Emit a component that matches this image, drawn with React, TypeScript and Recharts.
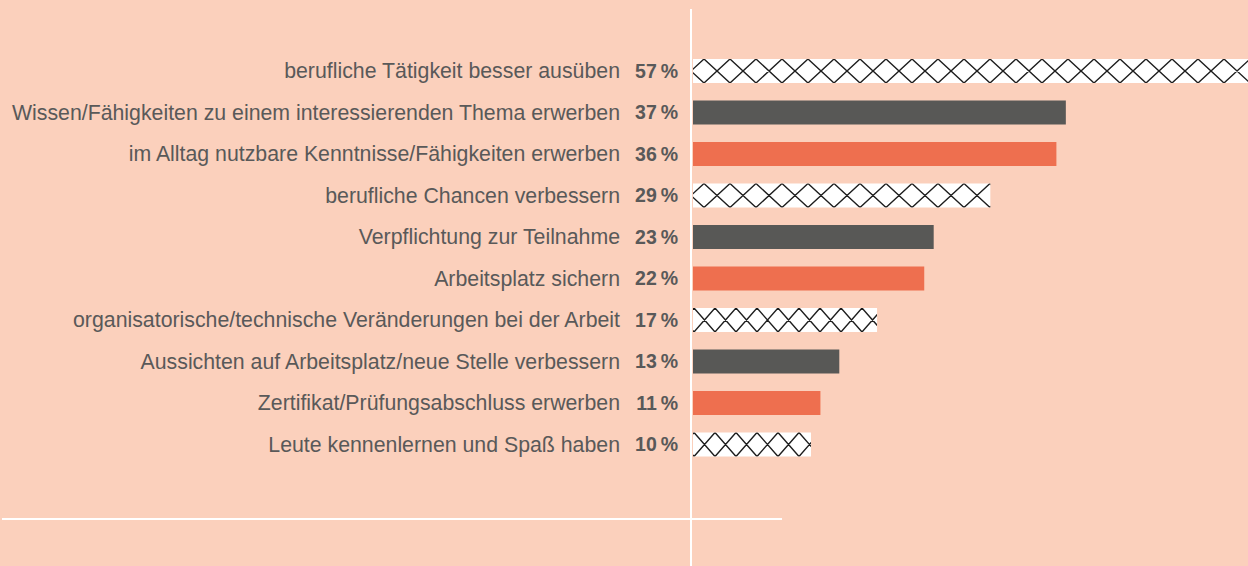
import { BarChart, Bar, XAxis, YAxis, Cell } from "recharts";

const categories = [
  "berufliche Tätigkeit besser ausüben",
  "Wissen/Fähigkeiten zu einem interessierenden Thema erwerben",
  "im Alltag nutzbare Kenntnisse/Fähigkeiten erwerben",
  "berufliche Chancen verbessern",
  "Verpflichtung zur Teilnahme",
  "Arbeitsplatz sichern",
  "organisatorische/technische Veränderungen bei der Arbeit",
  "Aussichten auf Arbeitsplatz/neue Stelle verbessern",
  "Zertifikat/Prüfungsabschluss erwerben",
  "Leute kennenlernen und Spaß haben",
];

const shares = [57, 37, 36, 29, 23, 22, 17, 13, 11, 10];

// hatch = white bar with diamond lattice
const styles = ["hatch", "dark", "orange", "hatch", "dark", "orange", "hatch", "dark", "orange", "hatch"];

const BG = "#FBD0BC";
const TEXT = "#595959";
const colors: Record<string, string> = { dark: "#585856", orange: "#EE6F4F", hatch: "#ffffff" };

const AXIS_MIN = -2.5;
const AXIS_MAX = 56.3;

const data = categories.map((name, i) => ({
  name,
  value: shares[i],
  style: styles[i],
}));

const FONT = "'Liberation Sans', Arial, Helvetica, sans-serif";

const LabelTick = ({ x, y, payload, index }: any) => {
  const v = shares[index];
  return (
    <g>
      <text x={x - 73} y={y} dy="0.35em" textAnchor="end" fill={TEXT} fontSize={21.3} fontFamily={FONT}>
        {payload.value}
      </text>
      <text x={x - 15} y={y} dy="0.35em" textAnchor="end" fill={TEXT} fontSize={19.5} fontWeight="bold" fontFamily={FONT}>
        {v}{"\u2009"}%
      </text>
    </g>
  );
};

const HatchBar = (props: any) => {
  const { x, y, width, height, payload, index } = props;
  if (payload.style !== "hatch") {
    return <rect x={x} y={y} width={width} height={height} fill={colors[payload.style]} />;
  }
  // lattice spacing differs a bit between rows in the original
  const period = index < 5 ? 26 : 21;
  const offset = index < 5 ? 11 : 1;
  let d = "";
  for (let tx = x + offset - period * 2; tx < x + width + period; tx += period) {
    d += `M${tx},${y}L${tx + period},${y + height}`;
    d += `M${tx},${y}L${tx - period},${y + height}`;
  }
  const clipId = `hatch-clip-${index}`;
  return (
    <g>
      <defs>
        <clipPath id={clipId}>
          <rect x={x} y={y} width={width} height={height} />
        </clipPath>
      </defs>
      <rect x={x} y={y} width={width} height={height} fill="#fff" />
      <path d={d} stroke="#1e1e1e" strokeWidth={1.4} fill="none" clipPath={`url(#${clipId})`} />
    </g>
  );
};

export default function App() {
  return (
    <div
      style={{
        position: "absolute",
        left: 0,
        top: 0,
        width: 1248,
        height: 566,
        background: BG,
        overflow: "hidden",
      }}
    >
      <BarChart
        width={1248}
        height={566}
        data={data}
        layout="vertical"
        margin={{ top: 50, right: 0, bottom: 101, left: 0 }}
        barSize={24}
      >
        <XAxis type="number" hide domain={[AXIS_MIN, AXIS_MAX]} allowDataOverflow />
        <YAxis
          type="category"
          dataKey="name"
          width={693}
          axisLine={false}
          tickLine={false}
          tickSize={0}
          tickMargin={0}
          interval={0}
          tick={<LabelTick />}
        />
        <Bar
          dataKey={(d: any) => [AXIS_MIN, d.value]}
          shape={<HatchBar />}
          isAnimationActive={false}
        >
          {data.map((d, i) => (
            <Cell key={`cell-${i}`} fill={colors[d.style]} />
          ))}
        </Bar>
      </BarChart>
      <div style={{ position: "absolute", left: 690, top: 9, width: 2, height: 557, background: "#fff" }} />
      <div style={{ position: "absolute", left: 2, top: 518, width: 780, height: 2, background: "#fff" }} />
    </div>
  );
}
